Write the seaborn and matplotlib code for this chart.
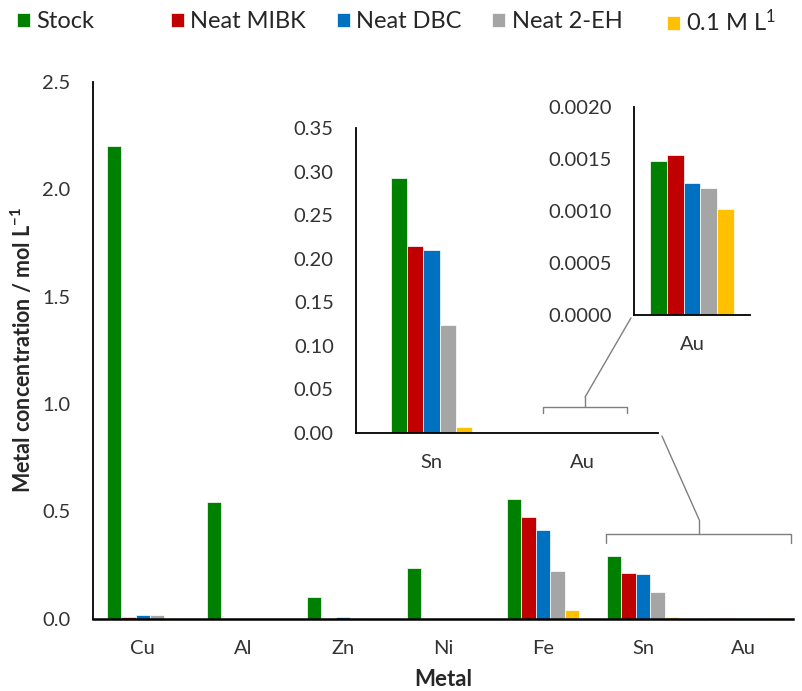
import matplotlib
matplotlib.use("Agg")
import matplotlib.pyplot as plt
from matplotlib.patches import ConnectionPatch
from matplotlib.lines import Line2D
import seaborn as sns
import pandas as pd

# Metals (x categories) and extraction series (hue)
metals = ["Cu", "Al", "Zn", "Ni", "Fe", "Sn", "Au"]
series = ["Stock", "Neat MIBK", "Neat DBC", "Neat 2-EH", "0.1 M L$^{1}$"]
colors = ["#008000", "#C00000", "#0070C0", "#A5A5A5", "#FFC000"]

# Concentrations in mol/L for each series, in the order of `metals`
stock     = [2.20, 0.545, 0.100, 0.234, 0.557, 0.293, 0.00148]
neat_mibk = [0.008, 0.0, 0.0, 0.0, 0.475, 0.215, 0.00154]
neat_dbc  = [0.019, 0.0, 0.007, 0.0, 0.412, 0.210, 0.00127]
neat_2eh  = [0.015, 0.0, 0.003, 0.0, 0.221, 0.124, 0.00122]
dilute    = [0.002, 0.0, 0.0, 0.0, 0.042, 0.007, 0.00102]

main_ticks = [0.0, 0.5, 1.0, 1.5, 2.0, 2.5]
sn_ticks = [0.00, 0.05, 0.10, 0.15, 0.20, 0.25, 0.30, 0.35]
au_ticks = [0.0000, 0.0005, 0.0010, 0.0015, 0.0020]

rows = []
for name, vals in zip(series, [stock, neat_mibk, neat_dbc, neat_2eh, dilute]):
    for m, v in zip(metals, vals):
        rows.append({"Metal": m, "Series": name, "Concentration": v})
df = pd.DataFrame(rows)

sns.set_style("white")
plt.rcParams["font.family"] = ["Lato", "DejaVu Sans"]
plt.rcParams["mathtext.fontset"] = "custom"
plt.rcParams["mathtext.rm"] = "Lato"
plt.rcParams["mathtext.bf"] = "Lato:bold"
plt.rcParams["mathtext.default"] = "regular"

W, H = 802, 691
fig = plt.figure(figsize=(W / 100, H / 100), dpi=100)


def px_axes(left, right, bottom, top):
    return fig.add_axes([left / W, 1 - bottom / H, (right - left) / W, (bottom - top) / H])


tick_color = "#333333"
tick_fs = 14.5


def style_axes(a, yticks, fmt, ylim):
    for s in ["top", "right"]:
        a.spines[s].set_visible(False)
    for s in ["left", "bottom"]:
        a.spines[s].set_color("black")
        a.spines[s].set_linewidth(1.3)
    a.set_ylim(*ylim)
    a.set_yticks(yticks)
    a.set_yticklabels([fmt.format(t) for t in yticks])
    a.tick_params(axis="y", length=0, pad=16, labelsize=tick_fs, labelcolor=tick_color)
    a.tick_params(axis="x", length=0, pad=15, labelsize=tick_fs, labelcolor=tick_color)
    a.set_xlabel("")
    a.set_ylabel("")


bar_kw = dict(x="Metal", y="Concentration", hue="Series", hue_order=series,
              palette=colors, saturation=1, edgecolor="white", linewidth=0.5)

# Main chart
ax = px_axes(92.7, 793, 618.7, 82)
sns.barplot(data=df, order=metals, width=0.72, ax=ax, **bar_kw)
handles, labels = ax.get_legend_handles_labels()
ax.get_legend().remove()
style_axes(ax, main_ticks, "{:.1f}", (0, 2.5))
ax.set_xlim(-0.5, len(metals) - 0.5)
ax.spines["bottom"].set_linewidth(1.8)
ax.set_xlabel("Metal", fontsize=16, fontweight="bold", labelpad=9)
ax.set_ylabel("Metal concentration / mol L$^{\\mathbf{-1}}$", fontsize=15.5,
              fontweight="bold", labelpad=5)

# Inset: Sn and Au
sn_order = ["Sn", "Au"]
ax_sn = px_axes(356, 658, 433, 128.3)
sns.barplot(data=df[df["Metal"].isin(sn_order)], order=sn_order, width=0.53,
            ax=ax_sn, legend=False, **bar_kw)
style_axes(ax_sn, sn_ticks, "{:.2f}", (0, 0.35))
ax_sn.set_xlim(-0.5, 1.5)
ax_sn.set_facecolor("white")

# Inset: Au only
ax_au = px_axes(634, 750, 315, 106.7)
sns.barplot(data=df[df["Metal"] == "Au"], order=["Au"], width=0.72,
            ax=ax_au, legend=False, **bar_kw)
style_axes(ax_au, au_ticks, "{:.4f}", (0, 0.002))
ax_au.set_xlim(-0.5, 0.5)
ax_au.set_facecolor("white")

# Brackets and leader lines
line_c = "#7F7F7F"
lw = 1.0


def bracket(a, x0, x1, y, y_end, xc, y_top):
    a.add_line(Line2D([x0, x0, x1, x1], [y_end, y, y, y_end], color=line_c, lw=lw,
                      clip_on=False))
    a.add_line(Line2D([xc, xc], [y, y_top], color=line_c, lw=lw, clip_on=False))


bracket(ax, 4.633, 6.483, 0.395, 0.353, 5.563, 0.46)
ax.add_artist(ConnectionPatch(xyA=(5.563, 0.46), coordsA=ax.transData,
                              xyB=(1.013, -0.01), coordsB=ax_sn.transAxes,
                              color=line_c, lw=lw))

bracket(ax_sn, 0.738, 1.295, 0.0299, 0.023, 1.017, 0.0413)
ax_sn.add_artist(ConnectionPatch(xyA=(1.017, 0.0413), coordsA=ax_sn.transData,
                                 xyB=(-0.026, -0.014), coordsB=ax_au.transAxes,
                                 color=line_c, lw=lw))

# Legend entries spread across the top
legend_fs = 17
em = legend_fs * 100 / 72
legend_x = [17, 171, 337, 492, 667]
for h, lab, x in zip(handles, labels, legend_x):
    fig.legend([h], [lab], loc="center left", bbox_to_anchor=(x / W, 1 - 22 / H),
               frameon=False, fontsize=legend_fs, handlelength=12.5 / em,
               handleheight=12.5 / em, handletextpad=7 / em, borderaxespad=0,
               borderpad=0)

fig.savefig("out.png", dpi=100)
